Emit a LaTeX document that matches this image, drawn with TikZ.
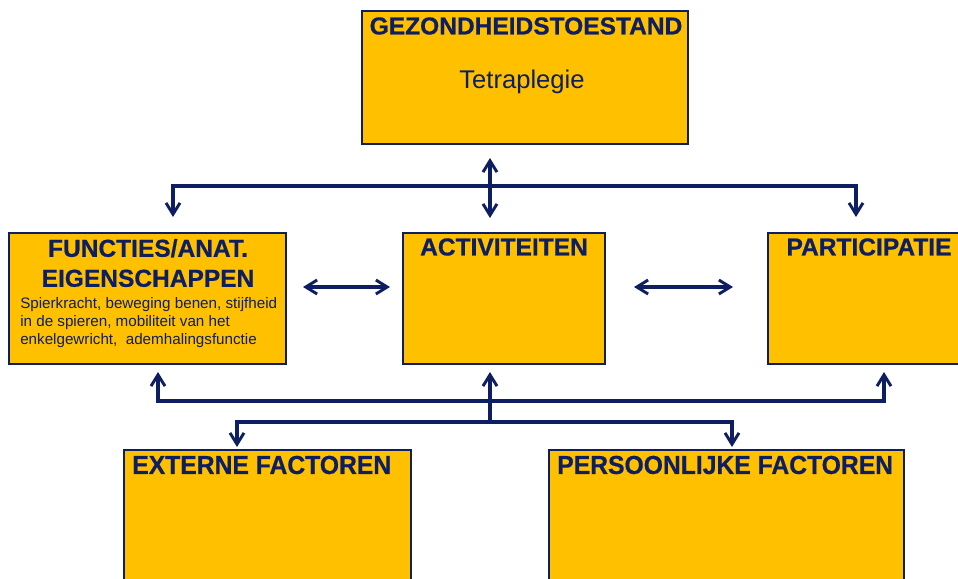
\documentclass[tikz,border=0pt]{standalone}
\usepackage{fontspec}
\setmainfont{Liberation Sans}
\newfontface\heavyface{Liberation Sans Bold}[FakeBold=0.6]
\usetikzlibrary{arrows.meta}
\definecolor{navy}{RGB}{14,30,98}
\definecolor{gold}{RGB}{255,192,0}
\begin{document}
\begin{tikzpicture}[x=0.75pt,y=-0.75pt,
  panel/.style 2 args={draw=navy, line width=1.6pt, fill=gold, inner sep=0pt,
    outer sep=0pt, anchor=north west,
    minimum width=#1*0.75pt, minimum height=#2*0.75pt},
  link/.style={draw=navy, line width=2.4pt, line join=miter},
  barb/.tip={Straight Barb[length=8.5pt,width=10.5pt,line width=2.2pt]},
  heading/.style={text=navy, inner sep=0pt, font=\heavyface\fontsize{18.4}{22.5}\selectfont},
  lowhead/.style={text=navy, inner sep=0pt, anchor=west,
    font=\heavyface\fontsize{19.5}{22}\selectfont},
  bodytext/.style={text=navy, inner sep=0pt, font=\fontsize{19.2}{22}\selectfont},
  detail/.style={text=navy, inner sep=0pt, align=left,
    font=\fontsize{11.4}{13.5}\selectfont}
]
\useasboundingbox (0,0) rectangle (958,579);
\clip (0,0) rectangle (958,579);

% boxes
\node[panel={326}{133}] (top)  at (362,11)  {};
\node[panel={277}{131}] (fun)  at (9,233)   {};
\node[panel={202}{131}] (mid)  at (403,233) {};
\node[panel={201}{131}] (part) at (768,233) {};
\node[panel={287}{140}] (ext)  at (124,450) {};
\node[panel={355}{140}] (pers) at (549,450) {};

% labels
\node[heading]  (topHead)  at (526,26) {GEZONDHEIDSTOESTAND};
\node[bodytext] (topBody)  at (522,82) {Tetraplegie};
\node[heading, align=center] (funHead) at (148,263) {FUNCTIES/ANAT.\\EIGENSCHAPPEN};
\node[detail, anchor=north west] (funBody) at (20,297)
  {Spierkracht, beweging benen, stijfheid\\in de spieren, mobiliteit van het\\enkelgewricht,\ \ ademhalingsfunctie};
\node[heading] (midHead)  at (504,247) {ACTIVITEITEN};
\node[heading] (partHead) at (869,247) {PARTICIPATIE};
\node[lowhead] (extHead)  at (132,465) {\scalebox{0.95}[1]{EXTERNE FACTOREN}};
\node[lowhead] (persHead) at (557,465) {\scalebox{0.95}[1]{PERSOONLIJKE FACTOREN}};

% junction points
\coordinate (busA)  at (490,186);
\coordinate (dropL) at (173,186);
\coordinate (dropR) at (856,186);
\coordinate (rowH)  at (0,287);
\coordinate (riseL) at (158,401);
\coordinate (riseR) at (884,401);
\coordinate (split) at (490,422);
\coordinate (fallL) at (237,422);
\coordinate (fallR) at (732,422);

% upper connectors
\draw[link, barb-barb, shorten <=10.5pt, shorten >=11.25pt]
  (top.south -| busA) -- (mid.north -| busA);
\draw[link, barb-barb, shorten <=12pt, shorten >=12pt]
  (dropL |- fun.north) -- (dropL) -- (dropR) -- (dropR |- part.north);

% side connectors
\draw[link, barb-barb, shorten <=12.75pt, shorten >=9.75pt]
  (fun.east |- rowH) -- (mid.west |- rowH);
\draw[link, barb-barb, shorten <=21.75pt, shorten >=26.25pt]
  (mid.east |- rowH) -- (part.west |- rowH);

% lower connectors
\draw[link, barb-barb, shorten <=6pt, shorten >=6pt]
  (riseL |- fun.south) -- (riseL) -- (riseR) -- (riseR |- part.south);
\draw[link, -barb, shorten >=6pt] (split) -- (mid.south -| split);
\draw[link, barb-barb, shorten <=2.25pt, shorten >=2.25pt]
  (fallL |- ext.north) -- (fallL) -- (fallR) -- (fallR |- pers.north);
\end{tikzpicture}
\end{document}
